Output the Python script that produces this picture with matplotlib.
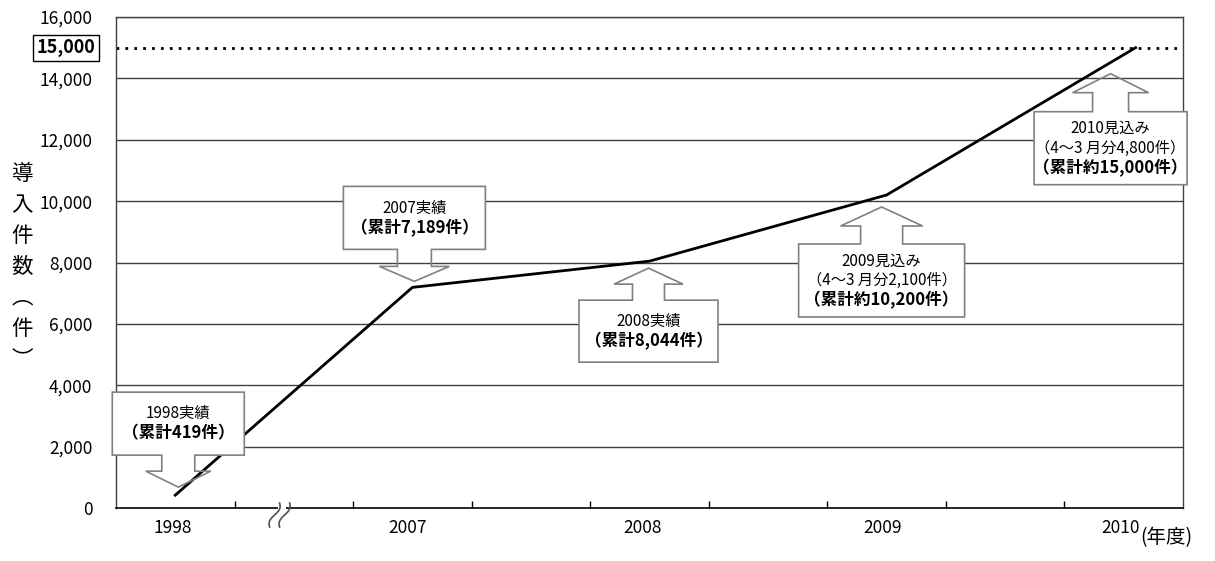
import numpy as np
import matplotlib
matplotlib.use("Agg")
import matplotlib.pyplot as plt
from matplotlib import transforms
from matplotlib.patches import Polygon, Rectangle

plt.rcParams['font.family'] = ['Noto Sans CJK JP', 'DejaVu Sans']

# data
years = ['1998', '2007', '2008', '2009', '2010']
x_slot = [0.5, 2.5, 4.5, 6.5, 8.6]
cumulative = [419, 7189, 8044, 10200, 15000]
target = 15000
yticks = [0, 2000, 4000, 6000, 8000, 10000, 12000, 14000, 16000]

notes = [
    ['1998実績', '（累計419件）'],
    ['2007実績', '（累計7,189件）'],
    ['2008実績', '（累計8,044件）'],
    ['2009見込み', '（4～3 月分2,100件）', '（累計約10,200件）'],
    ['2010見込み', '（4～3 月分4,800件）', '（累計約15,000件）'],
]

# where the year labels sit on the axis
label_pos = [0.48, 2.46, 4.44, 6.47, 8.47]

# callout geometry in pixels: direction, tip dx, tip dy, head w, head len,
# stem w, stem len, box w, box h
callout_style = [
    ('down', 3, -8, 65, 16, 33, 16, 132, 63),
    ('down', 2, -6, 70, 15, 34, 17, 142, 63),
    ('up', -1, 7, 69, 16, 32, 16, 139, 62),
    ('up', -5, 12, 82, 19, 42, 18, 166, 73),
    ('up', -25, 26, 76, 19, 36, 19, 153, 73),
]

W, H = 1215, 561
fig = plt.figure(figsize=(W / 100, H / 100), dpi=100)
ax = fig.add_axes([116 / W, 1 - 508 / H, (1183 - 116) / W, (508 - 17) / H])

ax.set_xlim(0, 9)
ax.set_ylim(0, 16000)

# grid lines
for v in yticks[1:]:
    ax.axhline(v, color='#404040', lw=1.0, zorder=1)
ax.axhline(target, color='black', lw=2.0, ls=(0, (1, 2.2)), zorder=2)

ax.plot(x_slot, cumulative, color='black', lw=2.0, zorder=3,
        solid_joinstyle='miter')

for s in ['left', 'right', 'top']:
    ax.spines[s].set_color('#404040')
    ax.spines[s].set_linewidth(1.0)
ax.spines['bottom'].set_color('black')
ax.spines['bottom'].set_linewidth(1.2)

ax.set_yticks(yticks)
ax.set_yticklabels([f'{v:,}' for v in yticks])
ax.tick_params(axis='y', length=0, pad=17, labelsize=12.5)
ax.set_xticks(np.arange(1, 9))
ax.set_xticklabels([])
ax.tick_params(axis='x', direction='in', length=5, width=1, color='black')
ax.set_xticks(label_pos, minor=True)
ax.set_xticklabels(years, minor=True)
ax.tick_params(axis='x', which='minor', length=0, pad=8, labelsize=12.5)

# 15,000 boxed label
tr = transforms.blended_transform_factory(ax.transAxes, ax.transData)
ax.text(-0.019, target, '15,000', transform=tr, ha='right', va='center',
        fontsize=13, fontweight='bold',
        bbox=dict(boxstyle='square,pad=0.2', fc='white', ec='black', lw=1))

# axis titles
fig.text(22 / W, 1 - 267 / H, '\n'.join('導入件数︵件︶'), ha='center',
         va='center', fontsize=15.5, linespacing=1.52)
fig.text(1140 / W, 1 - 538 / H, '(年度)', ha='left', va='center', fontsize=14)

# axis break mark
brk = fig.dpi_scale_trans + transforms.ScaledTranslation(
    1.38, 0, ax.transData)
ax.add_patch(Rectangle((-0.02, -0.03), 0.08, 0.06, transform=brk,
                       fc='white', ec='none', zorder=5, clip_on=False))
for dx in (-0.05, 0.05):
    t = np.linspace(0, 1, 30)
    xs = dx + 0.05 - 0.10 * t + 0.025 * np.sin(2 * np.pi * t)
    ys = 0.05 - 0.24 * t
    ax.plot(xs, ys, color='#505050', lw=1.2, transform=brk, zorder=6,
            clip_on=False)

# callouts
for xv, yv, lines, st in zip(x_slot, cumulative, notes, callout_style):
    d, tdx, tdy, hw, hl, sw, sl, bw, bh = st
    sgn = 1 if d == 'down' else -1
    base = [(0, 0), (hw / 2, hl), (sw / 2, hl), (sw / 2, hl + sl),
            (bw / 2, hl + sl), (bw / 2, hl + sl + bh), (-bw / 2, hl + sl + bh),
            (-bw / 2, hl + sl), (-sw / 2, hl + sl), (-sw / 2, hl),
            (-hw / 2, hl)]
    off = transforms.ScaledTranslation(xv, yv, ax.transData)
    trc = fig.dpi_scale_trans + off
    pts = [((tdx + px) / 100, (-tdy + sgn * py) / 100) for px, py in base]
    y0 = (-tdy + sgn * (hl + sl)) / 100
    y1 = (-tdy + sgn * (hl + sl + bh)) / 100
    ax.add_patch(Rectangle(((tdx - bw / 2) / 100, min(y0, y1)), bw / 100,
                           bh / 100, transform=trc, fc='white', ec='none',
                           zorder=4, clip_on=False))
    ax.add_patch(Polygon(pts, closed=True, transform=trc, fc='none',
                         ec='#808080', lw=1.2, zorder=5, clip_on=False))
    top = max(y0, y1)
    n = len(lines)
    step = 19.5
    cy = top - bh / 200
    for k, txt in enumerate(lines):
        ty = cy + ((n - 1) / 2 - k) * step / 100
        bold = k == n - 1
        ax.text(tdx / 100, ty, txt, transform=trc, ha='center', va='center',
                fontsize=12 if bold else 11,
                fontweight='bold' if bold else 'normal', zorder=6)

fig.savefig('out.png', dpi=100)
